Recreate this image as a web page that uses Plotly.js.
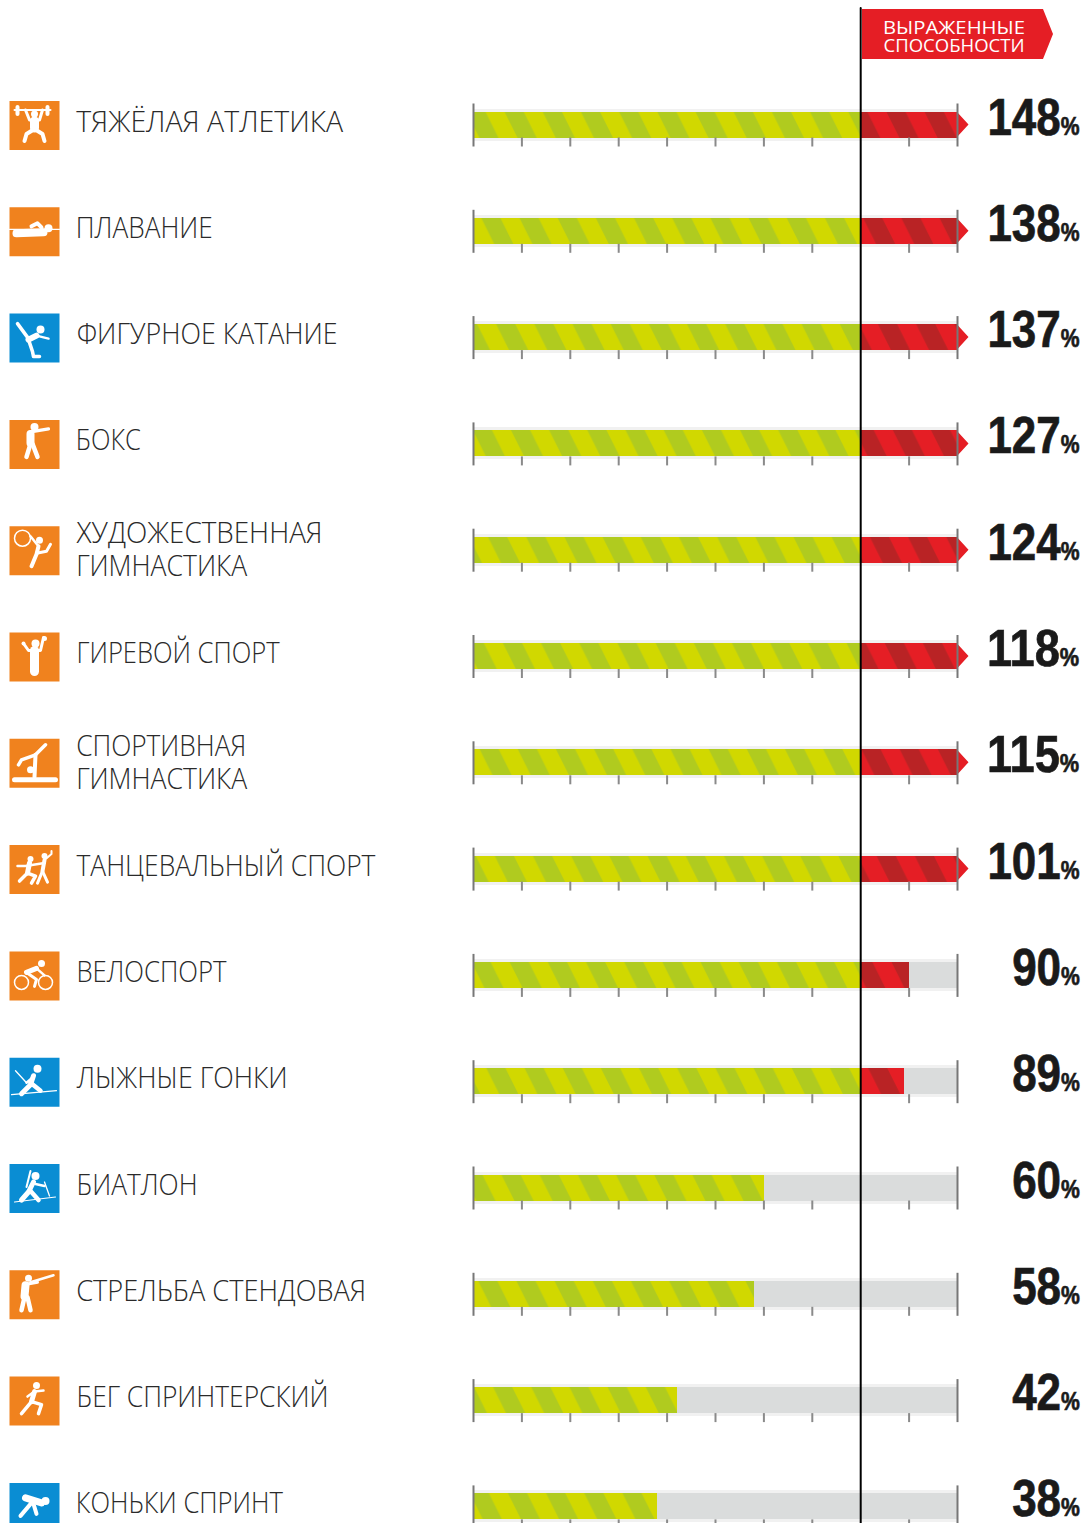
<!DOCTYPE html>
<html><head><meta charset="utf-8">
<script src="https://cdn.plot.ly/plotly-3.0.1.min.js"></script>
<style>
html,body{margin:0;padding:0;background:#fff;overflow:hidden}
#chart{width:1083px;height:1523px}
.shapelayer path{stroke-linecap:round;stroke-linejoin:round}
</style></head><body><div id="chart"></div>
<script>
// ---------- data ----------
const sports = ["ТЯЖЁЛАЯ АТЛЕТИКА","ПЛАВАНИЕ","ФИГУРНОЕ КАТАНИЕ","БОКС","ХУДОЖЕСТВЕННАЯ|ГИМНАСТИКА","ГИРЕВОЙ СПОРТ","СПОРТИВНАЯ|ГИМНАСТИКА","ТАНЦЕВАЛЬНЫЙ СПОРТ","ВЕЛОСПОРТ","ЛЫЖНЫЕ ГОНКИ","БИАТЛОН","СТРЕЛЬБА СТЕНДОВАЯ","БЕГ СПРИНТЕРСКИЙ","КОНЬКИ СПРИНТ"];
const values = [148,138,137,127,124,118,115,101,90,89,60,58,42,38];
const winterSport = [0,0,1,0,0,0,0,0,0,1,1,0,0,1];
const threshold = 80;
const fullScale = 100;
const tickValues = [10,20,30,40,50,60,70,90];
const headerLines = ["ВЫРАЖЕННЫЕ","СПОСОБНОСТИ"];

// ---------- page geometry ----------
const W=1083,H=1523,X0=473.5,SX=4.84,Y0=124.5,SY=106.3;
const dx=p=>(p-X0)/SX, dy=p=>(p-Y0)/SY;
const rows=values.map((_,i)=>i);
const ink='#1a1a1a';
// measured text widths (px) of the condensed typeface of the reference
const fit={"ТЯЖЁЛАЯ АТЛЕТИКА":267,"ПЛАВАНИЕ":137,"ФИГУРНОЕ КАТАНИЕ":261,"БОКС":65,"ХУДОЖЕСТВЕННАЯ":246,"ГИМНАСТИКА":171,"ГИРЕВОЙ СПОРТ":203,"СПОРТИВНАЯ":170,"ТАНЦЕВАЛЬНЫЙ СПОРТ":299,"ВЕЛОСПОРТ":150,"ЛЫЖНЫЕ ГОНКИ":211,"БИАТЛОН":121,"СТРЕЛЬБА СТЕНДОВАЯ":290,"БЕГ СПРИНТЕРСКИЙ":252,"КОНЬКИ СПРИНТ":207,"ВЫРАЖЕННЫЕ":142,"СПОСОБНОСТИ":141};
const digitW=24.4, pctW=19;

// pictograms: local 50×50 box. l:[width,[x,y,...]] polyline, c:[r,x,y] disc, o:[r,x,y,w] ring
const icons=[
 {l:[[2,[5,9,41,9]],[4,[8,6,8,13]],[4,[38,6,38,13]],[3,[16,9,20,19,30,19,33,9]],[9,[25,20,25,27]],[4,[25,28,17,33,15,40]],[4,[25,28,33,33,35,40]]],c:[[3.5,25,13]]},
 {l:[[1.2,[0,22,50,22]],[8,[7,26,34,25]],[4,[22,19,28,16,32,20]]],c:[[4,39,21]]},
 {l:[[3.5,[8,10,19,25]],[6,[19,26,27,22]],[2.5,[27,22,39,25]],[3.5,[19,26,23,38,24,43,30,43]]],c:[[4,31,16]]},
 {l:[[3.2,[21,12,39,9]],[8,[21,14,21,23]],[4.5,[21,24,17,37]],[4.5,[23,24,28,37]]],c:[[4,25,7]]},
 {l:[[2.5,[21,10,29,20]],[4,[29,20,27,28,22,40]],[3,[27,27,37,25,41,18]]],c:[[3.5,30,14]],o:[[8,13,12,1.5]]},
 {l:[[3,[14,11,19,18,31,18,34,5]],[9,[25,18,25,39]]],c:[[4,26,11],[2.5,35,6],[2,14,11]]},
 {l:[[5,[5,41,46,41]],[3.5,[36,6,26,16,12,21,9,26]],[4,[26,16,25,38]]],c:[[3.5,21,31]]},
 {l:[[2.5,[8,21,16,21,35,18]],[5,[20,18,18,28]],[3.5,[18,28,10,36]],[3.5,[18,28,26,31,22,38]],[4,[35,15,33,26]],[2,[35,15,42,9,42,6]],[3,[33,26,28,38]],[3,[33,26,38,37]]],c:[[3,21,14],[3,35,11]]},
 {l:[[5,[27,17,17,21]],[3,[17,21,27,28,25,35]],[2.5,[27,17,35,24]]],c:[[3.5,32,12]],o:[[7,12,31,1.5],[7,36,31,1.5]]},
 {l:[[1.2,[2,37,47,33]],[5,[24,18,21,27,12,36]],[4.5,[21,25,31,33]],[1.3,[6,13,17,25]],[2.5,[24,19,17,25]]],c:[[4,28,11]]},
 {l:[[1.2,[5,38,46,33]],[5,[24,18,19,28,12,36]],[4.5,[21,27,29,36]],[2.5,[26,20,35,22]],[1.3,[35,18,40,32]],[2,[21,7,17,23]]],c:[[4,26,12]]},
 {l:[[2.5,[21,12,44,5]],[8,[16,15,15,26]],[3,[17,14,28,12]],[4.5,[15,27,12,40]],[4.5,[18,27,21,40]]],c:[[3.5,19,8]]},
 {l:[[5,[25,15,22,25]],[2.5,[18,20,25,15,34,14]],[3.5,[22,25,12,37]],[3.5,[22,25,32,28,29,37]]],c:[[3.5,27,9]]},
 {l:[[7,[16,15,32,20]],[4,[22,20,11,33]],[4,[24,21,27,31]]],c:[[4,36,18]]}
];

const shapes=[], annotations=[];
const labelFont={family:'"Open Sans", sans-serif',weight:300,size:30,color:'#2a2a2a'};
const numFont={family:'"Liberation Sans", sans-serif',weight:700,size:52,color:ink};
rows.forEach(i=>{
  const ox=9.5, oy=101+SY*i;
  const u=v=>dx(ox+v), t=v=>dy(oy+v);
  shapes.push({type:'rect',layer:'above',x0:u(0),x1:u(50),y0:t(0),y1:t(49),fillcolor:winterSport[i]?'#0a8dd3':'#f0821e',line:{width:0}});
  const ic=icons[i];
  ic.l.forEach(([w,p])=>{
    let d='';
    for(let k=0;k<p.length;k+=2)d+=(k?'L':'M')+u(p[k])+','+t(p[k+1]);
    shapes.push({type:'path',layer:'above',path:d,line:{color:'#fff',width:w}});
  });
  ic.c.forEach(([r,x,y])=>shapes.push({type:'circle',layer:'above',x0:u(x-r),x1:u(x+r),y0:t(y-r),y1:t(y+r),fillcolor:'#fff',line:{width:0}}));
  (ic.o||[]).forEach(([r,x,y,w])=>shapes.push({type:'circle',layer:'above',x0:u(x-r),x1:u(x+r),y0:t(y-r),y1:t(y+r),line:{color:'#fff',width:w}}));
  // labels
  const parts=sports[i].split('|');
  parts.forEach((s,k)=>annotations.push({xref:'x',yref:'y',x:dx(76+fit[s]/2),y:parts.length>1?i+(k?15:-18)/SY:i-4.5/SY,text:s,showarrow:false,xanchor:'center',yanchor:'middle',font:labelFont}));
  // values
  const vs=String(values[i]), tw=vs.length*digitW+pctW;
  annotations.push({xref:'x',yref:'y',x:dx(1079.5-tw/2),y:i-8/SY,showarrow:false,xanchor:'center',yanchor:'middle',height:44,
    text:vs+'<span style="font-size:25px">%</span>',font:numFont});
});
// vertical threshold line
shapes.push({type:'line',layer:'above',x0:threshold,x1:threshold,y0:dy(8),y1:dy(H),line:{color:'#000',width:2}});
// header badge
shapes.push({type:'path',layer:'above',path:`M${dx(862)},${dy(9)}L${dx(1043)},${dy(9)}L${dx(1053)},${dy(34)}L${dx(1043)},${dy(59)}L${dx(862)},${dy(59)}Z`,fillcolor:'#e51e25',line:{width:0}});
headerLines.forEach((s,k)=>annotations.push({xref:'x',yref:'y',x:dx(954),y:dy(27+k*17.5),text:s,showarrow:false,xanchor:'center',yanchor:'middle',height:16,width:170,
  font:{family:'"Open Sans", sans-serif',weight:400,size:19,color:'#fff'}}));

// ticks
const tx=[],ty=[],ex=[],ey=[];
rows.forEach(i=>{
  tickValues.forEach(v=>{tx.push(v,v,null);ty.push(i+13/SY,i+22/SY,null);});
  [0,fullScale].forEach(v=>{ex.push(v,v,null);ey.push(i-21/SY,i+22/SY,null);});
});
// arrow heads for values above full scale
const ax=[],ay=[];
rows.filter(i=>values[i]>fullScale).forEach(i=>{ax.push(fullScale,fullScale+11/SX,fullScale,null);ay.push(i-12/SY,i,i+12/SY,null);});

const over=rows.filter(i=>values[i]>threshold);
const traces=[
 {type:'bar',orientation:'h',y:rows,x:rows.map(()=>fullScale),width:32/SY,marker:{color:'#f1f1f1',line:{width:0}}},
 {type:'bar',orientation:'h',y:rows,x:rows.map(()=>fullScale),width:26/SY,marker:{color:'#dadcdc',line:{width:0}}},
 {type:'bar',orientation:'h',y:rows,x:values.map(v=>Math.min(v,threshold)),width:26/SY,
  marker:{color:'#d1d800',line:{width:0},pattern:{shape:'\\',size:27,solidity:0.5,fgcolor:'#b0cb1f',bgcolor:'#d1d800'}}},
 {type:'bar',orientation:'h',y:over,base:over.map(()=>threshold),x:over.map(i=>Math.min(values[i],fullScale)-threshold),width:26/SY,
  marker:{color:'#e51e25',line:{width:0},pattern:{shape:'\\',size:27,solidity:0.5,fgcolor:'#b92325',bgcolor:'#e51e25'}}},
 {type:'scatter',mode:'lines',x:ax,y:ay,fill:'toself',fillcolor:'#e51e25',line:{width:0,color:'#e51e25'}},
 {type:'scatter',mode:'lines',x:tx,y:ty,line:{color:'#8a8a8a',width:2}},
 {type:'scatter',mode:'lines',x:ex,y:ey,line:{color:'#777',width:2}}
];
const layout={width:W,height:H,margin:{l:0,r:0,t:0,b:0},showlegend:false,barmode:'overlay',bargap:0,
 paper_bgcolor:'#fff',plot_bgcolor:'#fff',hovermode:false,
 xaxis:{range:[dx(0),dx(W)],visible:false,fixedrange:true},
 yaxis:{range:[dy(H),dy(0)],visible:false,fixedrange:true},
 shapes,annotations};
Plotly.newPlot('chart',traces,layout,{displayModeBar:false,staticPlot:true}).then(gd=>{
  gd.querySelectorAll('pattern').forEach(p=>p.setAttribute('patternTransform','scale(1,2)'));
  gd.querySelectorAll('.annotation-text').forEach(t=>{
    const s=t.textContent, num=/^\d+%$/.test(s);
    const w=fit[s]||(num?(s.length-1)*digitW+pctW:0);
    if(w){t.setAttribute('textLength',w);t.setAttribute('lengthAdjust','spacingAndGlyphs');}
    if(num){t.style.stroke=ink;t.style.strokeWidth='0.7px';}
  });
});
</script></body></html>
